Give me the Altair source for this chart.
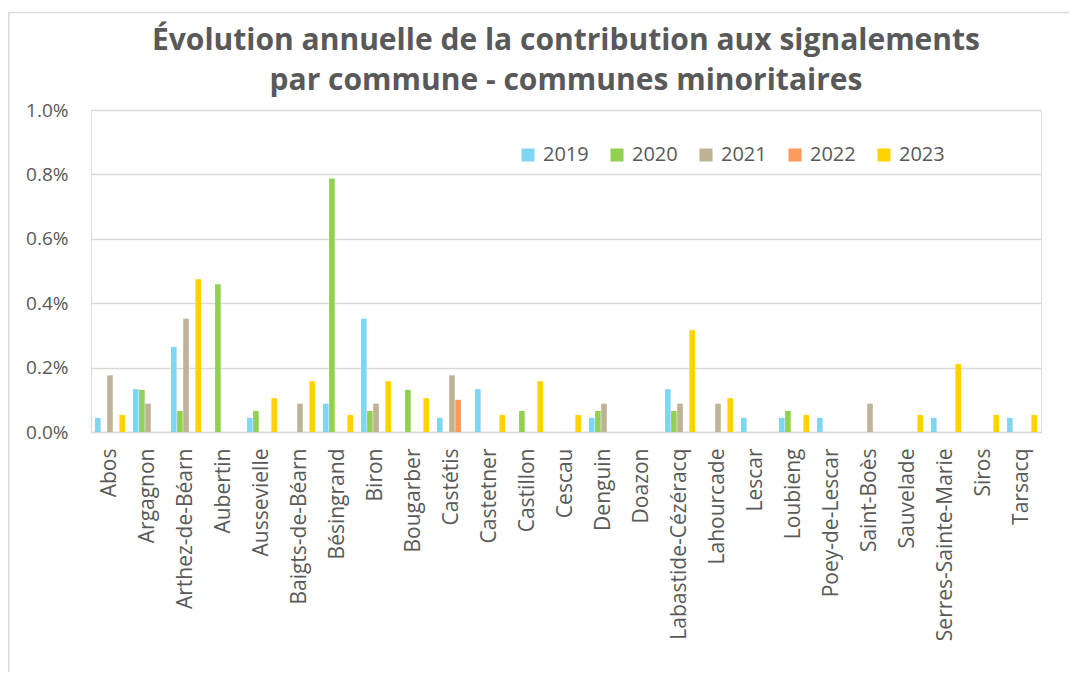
import altair as alt
import pandas as pd

communes = ["Abos", "Argagnon", "Arthez-de-Béarn", "Aubertin", "Aussevielle",
            "Baigts-de-Béarn", "Bésingrand", "Biron", "Bougarber", "Castétis",
            "Castetner", "Castillon", "Cescau", "Denguin", "Doazon",
            "Labastide-Cézéracq", "Lahourcade", "Lescar", "Loubieng",
            "Poey-de-Lescar", "Saint-Boès", "Sauvelade", "Serres-Sainte-Marie",
            "Siros", "Tarsacq"]
years = ["2019", "2020", "2021", "2022", "2023"]

# values in percent
v2019 = [0.044, 0.133, 0.264, 0, 0.044, 0, 0.088, 0.352, 0, 0.044,
         0.133, 0, 0, 0.044, 0, 0.133, 0, 0.044, 0.044, 0.044,
         0, 0, 0.044, 0, 0.044]
v2020 = [0, 0.131, 0.0655, 0.459, 0.0655, 0, 0.787, 0.0655, 0.131, 0,
         0, 0.0655, 0, 0.0655, 0, 0.0655, 0, 0, 0.0655, 0,
         0, 0, 0, 0, 0]
v2021 = [0.176, 0.088, 0.352, 0, 0, 0.088, 0, 0.088, 0, 0.176,
         0, 0, 0, 0.088, 0, 0.088, 0.088, 0, 0, 0,
         0.088, 0, 0, 0, 0]
v2022 = [0, 0, 0, 0, 0, 0, 0, 0, 0, 0.1,
         0, 0, 0, 0, 0, 0, 0, 0, 0, 0,
         0, 0, 0, 0, 0]
v2023 = [0.053, 0, 0.474, 0, 0.105, 0.158, 0.053, 0.158, 0.105, 0,
         0.053, 0.158, 0.053, 0, 0, 0.316, 0.105, 0, 0.053, 0,
         0, 0.053, 0.211, 0.053, 0.053]
colors = ["#7fd6f2", "#92d050", "#bfb395", "#fb9a5c", "#ffd200"]

series = [v2019, v2020, v2021, v2022, v2023]
rows = []
for y, vals in zip(years, series):
    for c, v in zip(communes, vals):
        if v > 0:
            rows.append({"Commune": c, "Année": y, "Valeur": v / 100.0})
df = pd.DataFrame(rows)

W, H = 950, 322
FONT = "Open Sans"
GRAY = "#595959"

bars = alt.Chart(df).mark_bar().encode(
    x=alt.X("Commune:N", sort=communes,
            scale=alt.Scale(domain=communes, paddingInner=0.21, paddingOuter=0.105),
            axis=alt.Axis(title=None, labelAngle=270, labelAlign="right",
                          labelBaseline="middle", labelFontSize=21,
                          labelColor=GRAY, labelFont=FONT, labelPadding=16,
                          ticks=False, domainColor="#d9d9d9", domainWidth=1.5,
                          labelOverlap=False, labelLimit=400)),
    xOffset=alt.XOffset("Année:N", scale=alt.Scale(domain=years, paddingInner=0.08)),
    y=alt.Y("Valeur:Q",
            scale=alt.Scale(domain=[0, 0.01]),
            axis=alt.Axis(title=None, format=".1%", values=[0, 0.002, 0.004, 0.006, 0.008, 0.01],
                          labelFontSize=19, labelColor=GRAY, labelFont=FONT,
                          labelPadding=23, ticks=False, domain=False,
                          gridColor="#d9d9d9", gridWidth=1.5)),
    color=alt.Color("Année:N", scale=alt.Scale(domain=years, range=colors),
                    legend=alt.Legend(title=None, orient="none", direction="horizontal",
                                      legendX=427, legendY=35, symbolType="square",
                                      symbolSize=170, symbolStrokeWidth=0,
                                      labelFontSize=20, labelColor=GRAY, labelFont=FONT,
                                      labelOffset=5, columnPadding=18)),
)

left_border = alt.Chart(pd.DataFrame({"a": [0]})).mark_rule(color="#d9d9d9", strokeWidth=1.5).encode(
    x=alt.value(-82.2), y=alt.value(-97.5), y2=alt.value(H + 260))
top_border = alt.Chart(pd.DataFrame({"a": [0]})).mark_rule(color="#d9d9d9", strokeWidth=1.5).encode(
    x=alt.value(-83), x2=alt.value(W + 28), y=alt.value(-97.5))

chart = alt.layer(bars, left_border, top_border).properties(
    width=W, height=H,
    title=alt.TitleParams(
        text=["Évolution annuelle de la contribution aux signalements",
              "par commune - communes minoritaires"],
        anchor="middle", fontSize=30, fontWeight="bold", color=GRAY, font=FONT,
        lineHeight=40, offset=-84),
    autosize=alt.AutoSizeParams(type="none"),
    padding={"left": 83, "top": 102, "right": 28, "bottom": 240},
).configure_view(stroke=None).configure(background="white")

chart.save("out.html", embed_options={"renderer": "svg", "actions": False})
